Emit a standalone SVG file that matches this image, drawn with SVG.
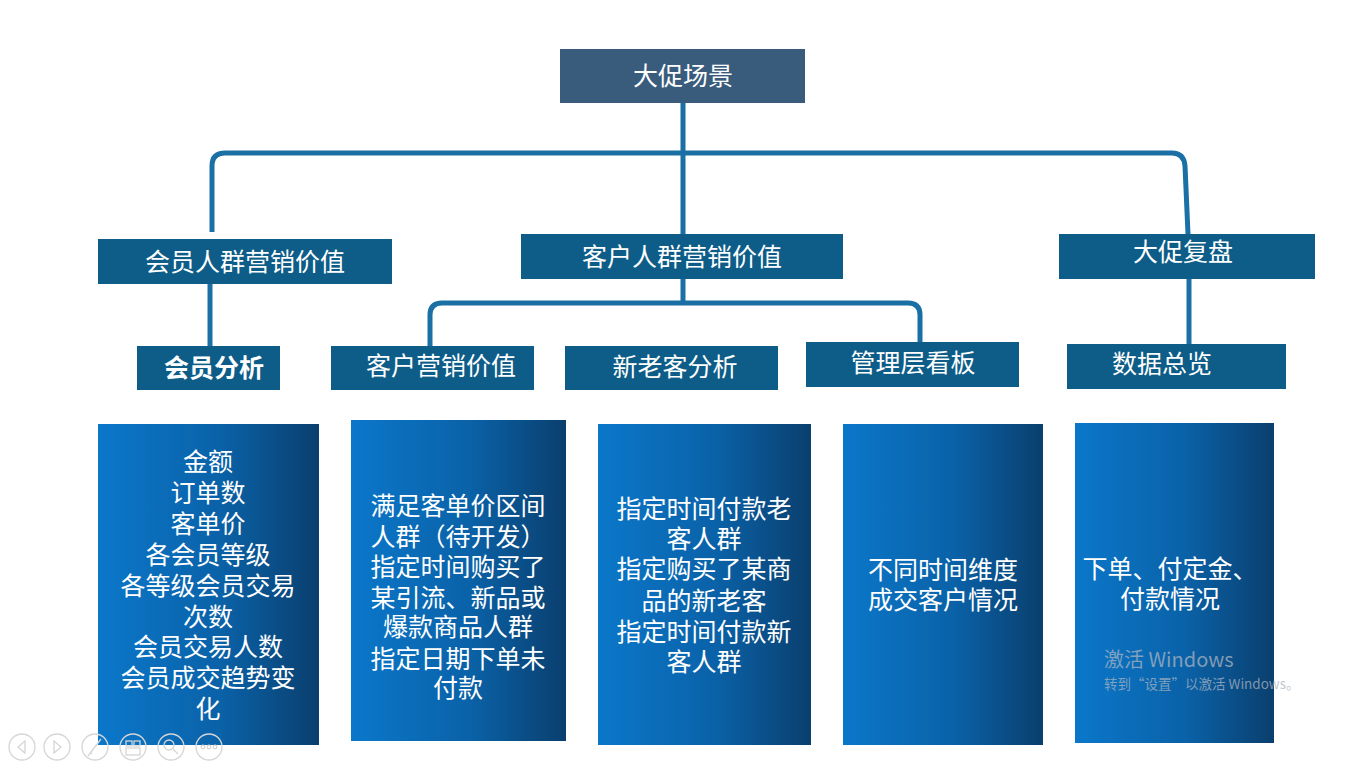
<svg xmlns="http://www.w3.org/2000/svg" width="1354" height="769" viewBox="0 0 1354 769">
<defs>
<linearGradient id="g" x1="0" y1="0" x2="1" y2="0">
<stop offset="0" stop-color="#0b77ca"/>
<stop offset="0.55" stop-color="#0a62a8"/>
<stop offset="1" stop-color="#0a3f6e"/>
</linearGradient>
<style>
.hd{fill:#0d5d88}
.top{fill:#395c7d}
.t{font-family:"Noto Sans CJK SC","Microsoft YaHei",sans-serif;fill:#ffffff;text-anchor:middle;font-size:25px}
.b{font-family:"Noto Sans CJK SC","Microsoft YaHei",sans-serif;fill:#ffffff;text-anchor:middle;font-size:25px}
.ln{fill:none;stroke:#1a70a4;stroke-width:5;stroke-linecap:butt}
.card{fill:url(#g)}
.wm{font-family:"Noto Sans CJK SC","Segoe UI",sans-serif;fill:#a9b4c0;fill-opacity:0.75}
.ic{fill:none;stroke:#d6d6d6;stroke-width:1.3}
</style>
</defs>
<rect width="1354" height="769" fill="#ffffff"/>

<g id="connectors">
<path class="ln" d="M683,103 V234"/>
<path class="ln" d="M212,232 V166 Q212,153 225,153 H1172 Q1184,153 1185,166 L1188,234"/>
<path class="ln" d="M210,284 V346"/>
<path class="ln" d="M683,279 V303"/>
<path class="ln" d="M430,346 V315 Q430,303 442,303 H908 Q920,303 920,315 V342"/>
<path class="ln" d="M1189,279 V344"/>
</g>

<g id="n-top"><rect class="top" x="560" y="49" width="245" height="54"/><text class="t" x="683" y="85">大促场景</text></g>
<g id="n-member"><rect class="hd" x="98" y="239" width="294" height="45"/><text class="t" x="245" y="271">会员人群营销价值</text></g>
<g id="n-customer"><rect class="hd" x="521" y="234" width="322" height="45"/><text class="t" x="682" y="266">客户人群营销价值</text></g>
<g id="n-review"><rect class="hd" x="1059" y="234" width="256" height="45"/><text class="t" x="1183" y="261">大促复盘</text></g>

<g id="n-member-analysis"><rect class="hd" x="137" y="346" width="143" height="44"/><text class="t" x="214" y="377" font-weight="bold">会员分析</text></g>
<g id="n-cust-mkt"><rect class="hd" x="331" y="346" width="203" height="44"/><text class="t" x="441" y="375">客户营销价值</text></g>
<g id="n-newold"><rect class="hd" x="565" y="346" width="213" height="44"/><text class="t" x="675" y="376">新老客分析</text></g>
<g id="n-mgmt"><rect class="hd" x="806" y="342" width="213" height="45"/><text class="t" x="913" y="372">管理层看板</text></g>
<g id="n-data"><rect class="hd" x="1067" y="344" width="219" height="45"/><text class="t" x="1162" y="373">数据总览</text></g>

<g id="c1"><rect class="card" x="98" y="424" width="221" height="321"/>
<text class="b" x="208" y="471">金额</text>
<text class="b" x="208" y="502">订单数</text>
<text class="b" x="208" y="533">客单价</text>
<text class="b" x="208" y="564">各会员等级</text>
<text class="b" x="208" y="595">各等级会员交易</text>
<text class="b" x="208" y="626">次数</text>
<text class="b" x="208" y="656">会员交易人数</text>
<text class="b" x="208" y="687">会员成交趋势变</text>
<text class="b" x="208" y="718">化</text>
</g>
<g id="c2"><rect class="card" x="351" y="420" width="215" height="321"/>
<text class="b" x="458" y="515">满足客单价区间</text>
<text class="b" x="458" y="546">人群（待开发）</text>
<text class="b" x="458" y="576">指定时间购买了</text>
<text class="b" x="458" y="607">某引流、新品或</text>
<text class="b" x="458" y="636">爆款商品人群</text>
<text class="b" x="458" y="668">指定日期下单未</text>
<text class="b" x="458" y="697">付款</text>
</g>
<g id="c3"><rect class="card" x="598" y="424" width="213" height="321"/>
<text class="b" x="704" y="518">指定时间付款老</text>
<text class="b" x="704" y="548">客人群</text>
<text class="b" x="704" y="578">指定购买了某商</text>
<text class="b" x="704" y="610">品的新老客</text>
<text class="b" x="704" y="641">指定时间付款新</text>
<text class="b" x="704" y="671">客人群</text>
</g>
<g id="c4"><rect class="card" x="843" y="424" width="200" height="321"/>
<text class="b" x="943" y="579">不同时间维度</text>
<text class="b" x="943" y="609">成交客户情况</text>
</g>
<g id="c5"><rect class="card" x="1075" y="423" width="199" height="320"/>
<text class="b" x="1170" y="578">下单、付定金、</text>
<text class="b" x="1170" y="608">付款情况</text>
</g>

<g id="watermark">
<text class="wm" x="1104" y="667" font-size="20">激活 Windows</text>
<text class="wm" x="1104" y="689" font-size="13.5">转到“设置”以激活 Windows。</text>
</g>

<g id="toolbar">
<circle class="ic" cx="22" cy="747" r="13"/><path class="ic" d="M25,741 L18,747 L25,753 Z"/>
<circle class="ic" cx="57" cy="747" r="13"/><path class="ic" d="M54,741 L61,747 L54,753 Z"/>
<circle class="ic" cx="95" cy="747" r="13"/><path class="ic" d="M88,756 L101,739 M90,752 L92,754"/>
<circle class="ic" cx="133" cy="747" r="13"/><rect class="ic" x="126" y="741" width="6" height="5"/><rect class="ic" x="134" y="741" width="6" height="5"/><rect class="ic" x="126" y="748" width="14" height="7"/>
<circle class="ic" cx="171" cy="747" r="13"/><circle class="ic" cx="169" cy="745" r="5"/><path class="ic" d="M173,749 L178,754"/>
<circle class="ic" cx="209" cy="747" r="13"/><circle class="ic" cx="203" cy="747" r="1.8"/><circle class="ic" cx="209" cy="747" r="1.8"/><circle class="ic" cx="215" cy="747" r="1.8"/>
</g>
</svg>
